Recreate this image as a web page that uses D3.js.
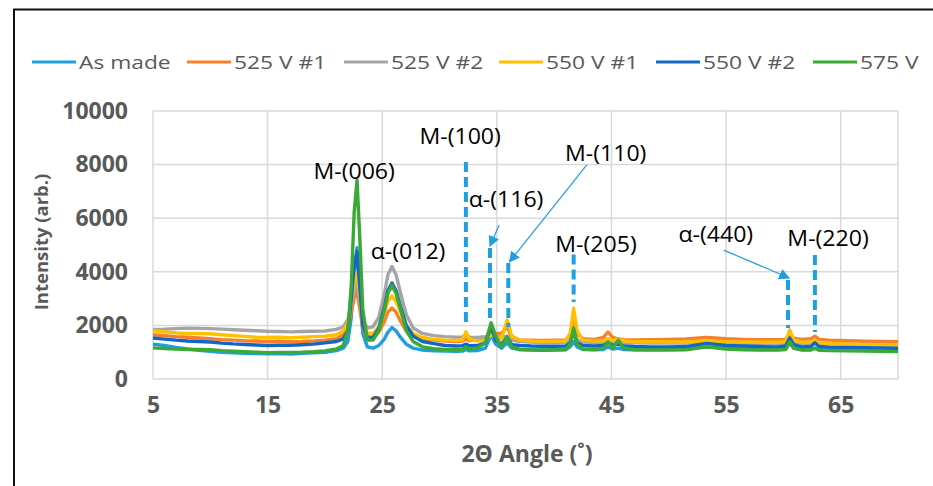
<!DOCTYPE html>
<html>
<head>
<meta charset="utf-8">
<script src="https://cdn.jsdelivr.net/npm/d3@7"></script>
<style>
  body { margin: 0; background: #fff; }
  svg { display: block; font-family: "Open Sans", sans-serif; }
</style>
</head>
<body>
<div id="xrd-chart"></div>
<script>
const angles = [5, 6, 7, 8, 9, 10, 11, 12, 13, 14, 15, 16, 17, 18, 19, 20, 21,
  21.6, 22.0, 22.3, 22.55, 22.8, 23.05, 23.3, 23.7,
  24.2, 24.7, 25.2, 25.5, 25.85, 26.2, 26.6, 27.1, 27.7, 28.5,
  29.5, 30.5, 31.5, 32.0, 32.3, 32.6, 33.3, 34.0, 34.5, 34.9, 35.4, 35.9, 36.3,
  37, 38, 39, 40, 41, 41.4, 41.7, 42.0, 42.5, 43.5, 44.3, 44.7, 45.1, 45.6, 46.1,
  47, 48.5, 50, 51.5, 53.3, 55, 56.5, 58, 59.5, 60.2, 60.55, 60.9, 61.6, 62.4, 62.75, 63.1, 64, 65.5, 67, 68.5, 70];

const seriesNames = ["As made", "525 V #1", "525 V #2", "550 V #1", "550 V #2", "575 V"];

const asMade = [1300, 1250, 1180, 1120, 1070, 1030, 1000, 980, 960, 950, 940, 950, 930, 960, 980, 1000, 1060,
  1150, 1400, 2300, 3900, 4900, 3300, 1700, 1200,
  1150, 1250, 1500, 1750, 1920, 1800, 1550, 1300, 1150, 1080,
  1050, 1040, 1030, 1040, 1100, 1050, 1060, 1150, 1650, 1300, 1150, 1350, 1150,
  1100, 1090, 1080, 1090, 1100, 1200, 1400, 1200, 1100, 1090, 1100, 1200, 1120, 1150, 1100,
  1090, 1100, 1110, 1120, 1200, 1150, 1120, 1100, 1100, 1120, 1350, 1150, 1100, 1100, 1150, 1100, 1090, 1080, 1070, 1060, 1060];

const v525a = [1650, 1620, 1580, 1560, 1530, 1500, 1470, 1450, 1430, 1420, 1400, 1410, 1390, 1400, 1420, 1450, 1500,
  1650, 1900, 2500, 3000, 3300, 2600, 1900, 1550,
  1550, 1750, 2150, 2500, 2650, 2500, 2150, 1800, 1600, 1480,
  1450, 1420, 1400, 1420, 1500, 1430, 1450, 1500, 1750, 1700, 1700, 1950, 1550,
  1460, 1450, 1440, 1450, 1460, 1600, 2300, 1700, 1500, 1480, 1550, 1750, 1550, 1500, 1470,
  1460, 1470, 1480, 1490, 1550, 1500, 1480, 1470, 1470, 1480, 1650, 1520, 1480, 1500, 1600, 1480, 1450, 1430, 1410, 1400, 1390];

const v525b = [1850, 1860, 1880, 1900, 1890, 1880, 1860, 1840, 1820, 1800, 1780, 1770, 1760, 1770, 1780, 1790, 1850,
  1950, 2200, 2800, 3300, 3600, 2900, 2200, 1900,
  1950, 2300, 3200, 3900, 4200, 3900, 3200, 2400, 1900, 1700,
  1620, 1580, 1560, 1570, 1650, 1560, 1550, 1580, 1650, 1600, 1550, 1600, 1450,
  1400, 1380, 1360, 1360, 1370, 1450, 1850, 1450, 1380, 1360, 1370, 1450, 1380, 1380, 1360,
  1350, 1340, 1340, 1340, 1380, 1350, 1340, 1330, 1330, 1340, 1500, 1360, 1330, 1330, 1380, 1320, 1310, 1300, 1290, 1280, 1270];

const v550a = [1800, 1760, 1720, 1700, 1700, 1690, 1650, 1620, 1590, 1560, 1550, 1560, 1540, 1560, 1580, 1600, 1650,
  1800, 2100, 2900, 3600, 4000, 3100, 2100, 1720,
  1700, 1950, 2500, 2900, 3100, 2900, 2500, 2000, 1700, 1550,
  1480, 1450, 1440, 1460, 1760, 1480, 1420, 1450, 1650, 1550, 1500, 2200, 1600,
  1450, 1420, 1400, 1410, 1420, 1700, 2640, 1800, 1450, 1420, 1430, 1500, 1440, 1500, 1420,
  1390, 1390, 1380, 1380, 1420, 1390, 1380, 1370, 1370, 1400, 1830, 1450, 1380, 1380, 1450, 1350, 1330, 1310, 1290, 1280, 1270];

const v550b = [1530, 1490, 1450, 1420, 1400, 1380, 1340, 1310, 1290, 1270, 1250, 1260, 1260, 1280, 1300, 1350, 1400,
  1500, 1800, 3000, 4200, 4750, 3400, 2000, 1570,
  1550, 1900, 2700, 3300, 3580, 3300, 2700, 2000, 1600, 1400,
  1320, 1250, 1230, 1240, 1300, 1240, 1250, 1350, 1950, 1450, 1300, 1550, 1280,
  1250, 1230, 1220, 1220, 1230, 1350, 1750, 1350, 1250, 1230, 1250, 1350, 1260, 1300, 1230,
  1210, 1200, 1200, 1210, 1330, 1250, 1230, 1210, 1200, 1230, 1530, 1280, 1200, 1210, 1350, 1210, 1190, 1180, 1170, 1160, 1150];

const v575 = [1160, 1140, 1120, 1100, 1100, 1090, 1060, 1040, 1020, 1000, 980, 990, 990, 1000, 1020, 1050, 1120,
  1250, 1800, 3500, 6200, 7420, 5200, 2600, 1450,
  1450, 1800, 2600, 3200, 3500, 3200, 2600, 1800, 1400, 1200,
  1130, 1100, 1090, 1100, 1200, 1120, 1150, 1350, 2100, 1600, 1200, 1580, 1200,
  1100, 1080, 1070, 1080, 1090, 1300, 1900, 1300, 1120, 1100, 1150, 1390, 1150, 1450, 1150,
  1090, 1080, 1080, 1090, 1200, 1120, 1090, 1080, 1080, 1100, 1390, 1150, 1080, 1080, 1150, 1070, 1060, 1050, 1040, 1030, 1020];

const xTicks = [5, 15, 25, 35, 45, 55, 65];
const yTicks = [0, 2000, 4000, 6000, 8000, 10000];

// peak labels, in data units (angle, intensity)
const peakLabels = ["M-(006)", "α-(012)", "M-(100)", "α-(116)", "M-(110)", "M-(205)", "α-(440)", "M-(220)"];
const labelAngles = [22.55, 27.25, 31.8, 35.8, 44.5, 43.65, 54.1, 63.9];
const labelLevels = [7800, 4810, 9070, 6750, 8470, 5070, 5450, 5300];

// dashed peak markers: angle, top, bottom
const markerAngles = [32.3, 34.4, 36.0, 41.7, 60.4, 62.75];
const markerTops = [8100, 4890, 4330, 4650, 3690, 4630];
const markerBottoms = [1940, 2130, 1940, 2870, 1900, 1750];

// leader arrows: [angle, intensity] from -> to
const arrowFrom = [[35.2, 5750], [42.85, 7990], [54.8, 4810]];
const arrowTo = [[34.4, 4960], [36.1, 4370], [60.5, 3770]];

// text in the source is a little wider than it is tall, so stretch it sideways
const stretchedText = (parent, px, py, str, size, sx, anchor, fill, weight) => {
  parent.append("g")
    .attr("transform", `translate(${px}, ${py}) scale(${sx}, 1)`)
    .append("text")
      .attr("text-anchor", anchor)
      .attr("dominant-baseline", "central")
      .attr("fill", fill)
      .style("font-size", `${size}px`)
      .style("font-weight", weight)
      .text(str);
};

const drawXrdChart = () => {
  const width = 933;
  const height = 486;
  const colours = ["#1f9fe0", "#f7802a", "#a5a5a5", "#ffc000", "#1466c6", "#3baa34"];
  const markColour = "#1f9fe0";
  const textGrey = "#595959";

  const svg = d3.select("#xrd-chart")
    .append("svg")
    .attr("width", width)
    .attr("height", height);

  // frame (image border on top and left)
  svg.append("path")
    .attr("d", `M${width},9.5 H14 V${height}`)
    .attr("fill", "none")
    .attr("stroke", "#111")
    .attr("stroke-width", 2);

  const x = d3.scaleLinear().domain([5, 70]).range([153, 898]);
  const y = d3.scaleLinear().domain([0, 10000]).range([379, 111]);

  // gridlines
  const grid = svg.append("g");
  grid.selectAll(".gx")
    .data(xTicks.concat([70]))
    .join("line")
      .attr("x1", d => x(d)).attr("x2", d => x(d))
      .attr("y1", y(0)).attr("y2", y(10000))
      .attr("stroke", "#d9d9d9")
      .attr("stroke-width", 1.5);
  grid.selectAll(".gy")
    .data(yTicks)
    .join("line")
      .attr("x1", x(5)).attr("x2", x(70))
      .attr("y1", d => y(d)).attr("y2", d => y(d))
      .attr("stroke", "#d9d9d9")
      .attr("stroke-width", 1.5);

  // axes (labels only, Excel style)
  const xAxis = svg.append("g")
    .attr("transform", `translate(0, ${y(0)})`)
    .call(d3.axisBottom(x).tickValues(xTicks).tickSize(0).tickPadding(18));
  const yAxis = svg.append("g")
    .attr("transform", `translate(${x(5) - 25}, 0)`)
    .call(d3.axisLeft(y).tickValues(yTicks).tickSize(0).tickPadding(0).tickFormat(d3.format("d")));
  [xAxis, yAxis].forEach(g => {
    g.select(".domain").remove();
    g.selectAll("text")
      .attr("fill", textGrey)
      .style("font-size", "23px")
      .style("font-weight", "bold")
      .style("font-family", "'Open Sans', sans-serif");
  });

  svg.append("text")
    .attr("x", 527).attr("y", 453)
    .attr("text-anchor", "middle")
    .attr("dominant-baseline", "central")
    .attr("fill", textGrey)
    .style("font-size", "23px")
    .style("font-weight", "bold")
    .text("2Θ Angle (˚)");

  svg.append("text")
    .attr("transform", "translate(40, 242) rotate(-90)")
    .attr("text-anchor", "middle")
    .attr("dominant-baseline", "central")
    .attr("fill", textGrey)
    .style("font-size", "18.5px")
    .style("font-weight", "bold")
    .text("Intensity (arb.)");

  // series
  const values = [asMade, v525a, v525b, v550a, v550b, v575];
  const series = seriesNames.map((name, i) => ({
    name,
    points: angles.map((a, j) => [a, values[i][j]])
  }));

  const line = d3.line()
    .x(d => x(d[0]))
    .y(d => y(d[1]));

  svg.append("g")
    .selectAll("path")
    .data(series)
    .join("path")
      .attr("d", d => line(d.points))
      .attr("fill", "none")
      .attr("stroke", (d, i) => colours[i])
      .attr("stroke-width", 3.4)
      .attr("stroke-linejoin", "round");

  // dashed peak markers
  svg.append("g")
    .selectAll("line")
    .data(markerAngles)
    .join("line")
      .attr("x1", d => x(d)).attr("x2", d => x(d))
      .attr("y1", (d, i) => y(markerTops[i]))
      .attr("y2", (d, i) => y(markerBottoms[i]))
      .attr("stroke", markColour)
      .attr("stroke-width", 4)
      .attr("stroke-dasharray", "10 5");

  // arrows
  svg.append("defs").append("marker")
    .attr("id", "head")
    .attr("viewBox", "0 0 10 10")
    .attr("refX", 9).attr("refY", 5)
    .attr("markerWidth", 11).attr("markerHeight", 11)
    .attr("markerUnits", "userSpaceOnUse")
    .attr("orient", "auto")
    .append("path")
      .attr("d", "M0,0 L10,5 L0,10 Z")
      .attr("fill", markColour);

  svg.append("g")
    .selectAll("line")
    .data(arrowFrom)
    .join("line")
      .attr("x1", d => x(d[0])).attr("y1", d => y(d[1]))
      .attr("x2", (d, i) => x(arrowTo[i][0]))
      .attr("y2", (d, i) => y(arrowTo[i][1]))
      .attr("stroke", markColour)
      .attr("stroke-width", 1.2)
      .attr("marker-end", "url(#head)");

  // peak labels
  const labels = svg.append("g");
  peakLabels.forEach((d, i) => {
    stretchedText(labels, x(labelAngles[i]), y(labelLevels[i]), d, 21, 1.1, "middle", "#000", "normal");
  });

  // legend
  const legendX = [32, 187, 344, 499, 656, 813];
  const legend = svg.append("g");
  seriesNames.forEach((d, i) => {
    legend.append("line")
      .attr("x1", legendX[i]).attr("x2", legendX[i] + 44)
      .attr("y1", 62).attr("y2", 62)
      .attr("stroke", colours[i])
      .attr("stroke-width", 3);
    stretchedText(legend, legendX[i] + 47, 62, d, 19, 1.2, "start", textGrey, "normal");
  });
};

drawXrdChart();
</script>
</body>
</html>
